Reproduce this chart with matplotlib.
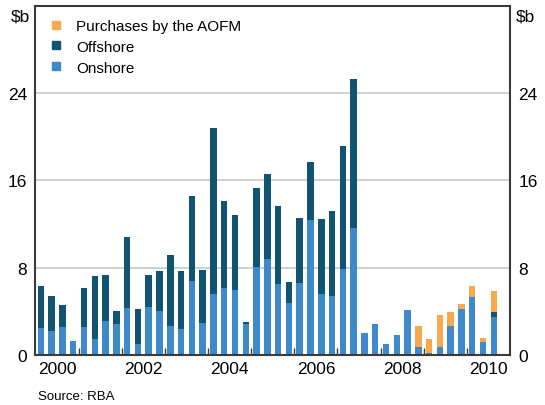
import matplotlib.pyplot as plt
from matplotlib.lines import Line2D
import numpy as np

plt.rcParams.update({
    'font.family': 'Liberation Sans',
    'font.size': 12.5,
})

# quarterly, 2000 Q1 to 2010 Q3, $b
onshore = [2.5, 2.2, 2.6, 1.3, 2.6, 1.5, 3.1, 2.8, 4.3, 1.0, 4.4, 4.0,
           2.7, 2.4, 6.8, 2.9, 5.6, 6.1, 6.0, 2.8, 8.1, 8.8, 6.5, 4.8,
           6.6, 12.4, 5.6, 5.4, 7.9, 11.6, 2.0, 2.8, 1.0, 1.8, 4.1, 0.7,
           0.2, 0.7, 2.7, 4.2, 5.3, 1.2, 3.5]
offshore = [3.8, 3.2, 2.0, 0.0, 3.5, 5.7, 4.2, 1.2, 6.5, 3.2, 2.9, 3.7,
            6.5, 5.3, 7.8, 4.9, 15.2, 8.0, 6.8, 0.2, 7.2, 7.8, 7.2, 1.9,
            6.0, 5.3, 6.9, 7.8, 11.3, 13.7, 0.0, 0.0, 0.0, 0.0, 0.0, 0.0,
            0.0, 0.0, 0.0, 0.0, 0.0, 0.0, 0.4]
aofm = [0.0] * 35 + [2.0, 1.3, 3.0, 1.2, 0.45, 1.0, 0.35, 2.0]
start_year = 2000
year_labels = ['2000', '2002', '2004', '2006', '2008', '2010']

c_aofm = '#F8A94E'
c_off = '#115471'
c_on = '#3D89CA'
frame = '#3a3a3a'

x = start_year + (np.arange(len(onshore)) + 0.5) / 4
on = np.array(onshore)
off = np.array(offshore)

fig = plt.figure(figsize=(5.45, 4.06), dpi=100)
ax = fig.add_axes([0.0651, 0.1232, 0.8707, 0.8596])

w = 0.15
ax.bar(x, on, w, color=c_on, zorder=2)
ax.bar(x, off, w, bottom=on, color=c_off, zorder=2)
ax.bar(x, aofm, w, bottom=on + off, color=c_aofm, zorder=2)

ax.set_xlim(2000, 2011)
ax.set_ylim(0, 32)
ax.set_yticks([0, 8, 16, 24])
ax.grid(True, axis='y', color='#c8c8c8', lw=1.2, zorder=0)
ax.tick_params(axis='y', length=0, pad=6, labelsize=12.5, right=True, labelright=True)

ax.set_xticks(np.arange(2001, 2011), minor=False)
ax.set_xticklabels([])
ax.tick_params(axis='x', which='major', direction='in', length=5, width=1, color=frame)
ax.set_xticks([int(y) + 0.5 for y in year_labels], minor=True)
ax.set_xticklabels(year_labels, minor=True)
ax.tick_params(axis='x', which='minor', length=0, pad=4, labelsize=12.5)

for s in ax.spines.values():
    s.set_color(frame)
    s.set_linewidth(1.5)

ax.text(-0.012, 31.1, '$b', transform=ax.get_yaxis_transform(), ha='right', va='center', fontsize=12.5)
ax.text(1.012, 31.1, '$b', transform=ax.get_yaxis_transform(), ha='left', va='center', fontsize=12.5)

handles = [Line2D([], [], ls='none', marker='s', markersize=6, color=c) for c in (c_aofm, c_off, c_on)]
ax.legend(handles, ['Purchases by the AOFM', 'Offshore', 'Onshore'], loc='upper left',
          bbox_to_anchor=(0.0, 1.0), frameon=False, fontsize=11, handlelength=1.0,
          handletextpad=0.8, labelspacing=0.45, borderaxespad=0.45)

fig.text(0.07, 0.008, 'Source: RBA', fontsize=9.5, ha='left', va='bottom')

fig.savefig('out.png', dpi=100)
